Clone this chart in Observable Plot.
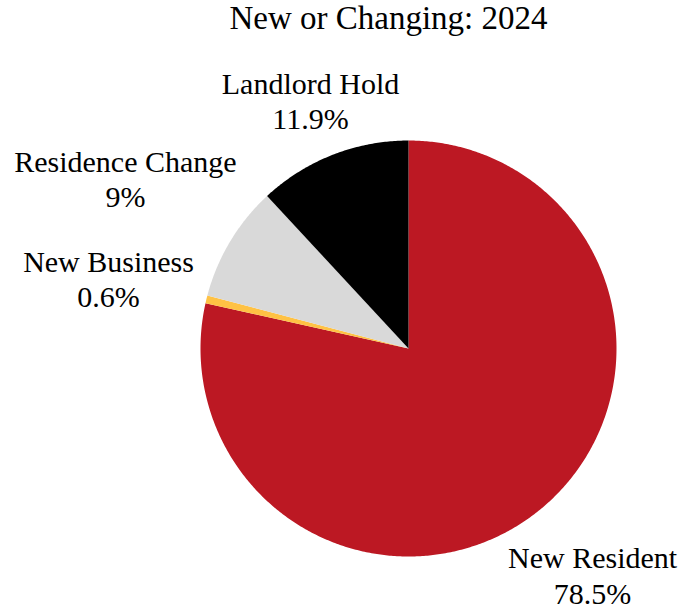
<!DOCTYPE html>
<html>
<head>
<meta charset="utf-8">
<script src="https://cdn.jsdelivr.net/npm/d3@7"></script>
<script src="https://cdn.jsdelivr.net/npm/@observablehq/plot@0.6"></script>
<style>
  html, body { margin: 0; padding: 0; background: #fff; }
</style>
</head>
<body>
<div id="chart"></div>
<script>
const title = "New or Changing: 2024";
const categories = ["New Resident", "New Business", "Residence Change", "Landlord Hold"];
const values = [78.5, 0.6, 9, 11.9];
const valueLabels = ["78.5%", "0.6%", "9%", "11.9%"];
const colors = ["#BC1823", "#FFC244", "#D9D9D9", "#000000"];
// label anchor positions in pie-radius units (layout only)
const labelX = [0.885, -1.442, -1.361, -0.471];
const labelY = [-1.088, 0.337, 0.817, 1.192];

const total = d3.sum(values);
const slices = [];
let acc = 0;
values.forEach((v, i) => {
  const a0 = acc / total * 2 * Math.PI;
  acc += v;
  const a1 = acc / total * 2 * Math.PI;
  const n = Math.max(2, Math.ceil((a1 - a0) / (Math.PI / 360)));
  slices.push({cat: categories[i], x: 0, y: 0});
  for (let k = 0; k <= n; k++) {
    const a = a0 + (a1 - a0) * k / n;
    slices.push({cat: categories[i], x: Math.sin(a), y: Math.cos(a)});
  }
  slices.push({cat: categories[i], x: 0, y: 0});
});

const labelData = categories.map((c, i) => ({
  text: c + "\n" + valueLabels[i], x: labelX[i], y: labelY[i]
}));

const chart = Plot.plot({
  width: 691,
  height: 611,
  marginLeft: 200,
  marginRight: 75,
  marginTop: 140,
  marginBottom: 55,
  x: {domain: [-1, 1], axis: null},
  y: {domain: [-1, 1], axis: null},
  color: {domain: categories, range: colors},
  marks: [
    Plot.line(slices, {x: "x", y: "y", z: "cat", fill: "cat", stroke: null, curve: "linear"}),
    Plot.text(labelData, {x: "x", y: "y", text: "text", fontSize: 30, lineHeight: 1.17,
      fontFamily: "Liberation Serif, Times New Roman, serif", fill: "#000"}),
    Plot.text([title], {frameAnchor: "top", lineAnchor: "middle", dx: -20, dy: -122, fontSize: 33,
      fontFamily: "Liberation Serif, Times New Roman, serif", fill: "#000"})
  ]
});
document.getElementById("chart").appendChild(chart);
</script>
</body>
</html>
